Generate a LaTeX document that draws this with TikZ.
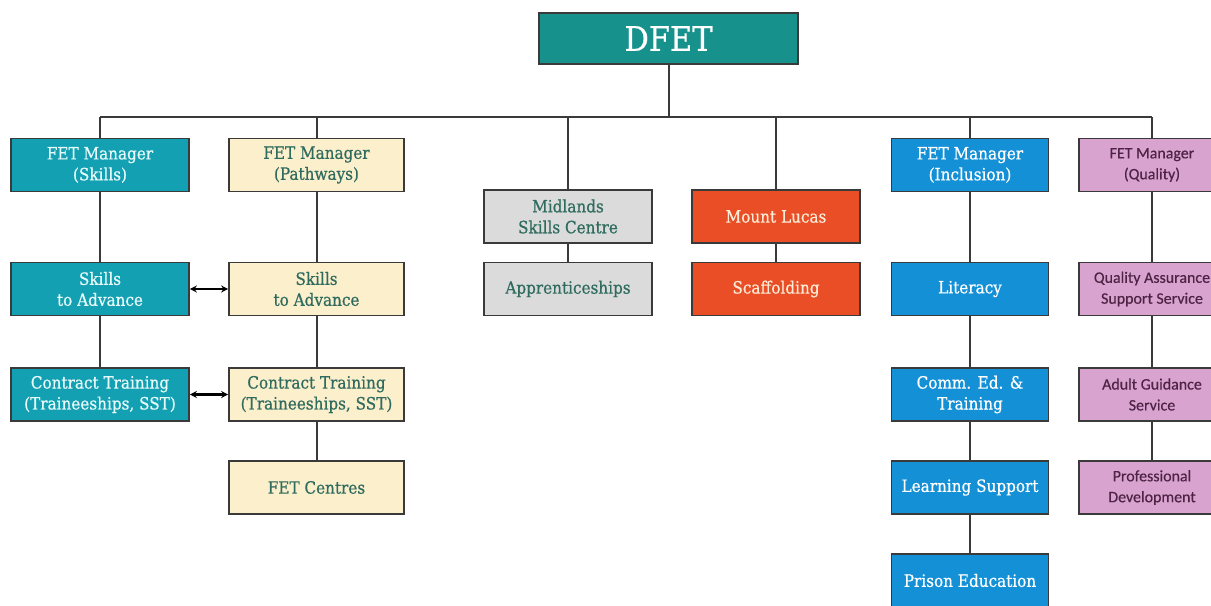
\documentclass[tikz,border=0pt]{standalone}
\usepackage{fontspec}
\setmainfont[FakeBold=0.6]{DejaVu Serif Condensed}
\newfontfamily\calib[FakeBold=0.4]{Carlito}
\usetikzlibrary{arrows.meta}
\definecolor{linec}{HTML}{3A3A3A}
\definecolor{dfetc}{HTML}{16918C}
\definecolor{skillc}{HTML}{12A0B2}
\definecolor{creamc}{HTML}{FBEFCC}
\definecolor{greyc}{HTML}{DBDBDB}
\definecolor{orangec}{HTML}{E94E26}
\definecolor{bluec}{HTML}{1490D6}
\definecolor{pinkc}{HTML}{D9A3CF}
\definecolor{tealtext}{HTML}{2F6B5E}
\definecolor{purptext}{HTML}{4E2346}
\definecolor{lighttext}{HTML}{E6FAFA}
\definecolor{orangetext}{HTML}{FCEBD6}
\tikzset{
  box/.style={draw=linec, line width=1.6bp, inner sep=0pt, align=center,
    minimum height=53bp, font=\fontsize{17}{21}\selectfont},
  skillbox/.style={box, fill=skillc, text=lighttext, minimum width=178bp},
  pathbox/.style={box, fill=creamc, text=tealtext, minimum width=175bp},
  greybox/.style={box, fill=greyc, text=tealtext, minimum width=168bp},
  orangebox/.style={box, fill=orangec, text=orangetext, minimum width=168bp},
  bluebox/.style={box, fill=bluec, text=white, minimum width=157bp},
  pinkbox/.style={box, fill=pinkc, text=purptext, minimum width=146bp,
    font=\calib\fontsize{16}{21}\selectfont},
  conn/.style={draw=linec, line width=2bp},
  dbl/.style={draw=black, line width=2.2bp, {Stealth[length=7bp,width=7bp]}-{Stealth[length=7bp,width=7bp]}}
}
\begin{document}
\begin{tikzpicture}[x=1bp,y=-1bp]
\useasboundingbox[fill=white] (0,0) rectangle (1211,606);
% top
\node[box, fill=dfetc, text=white, minimum width=259bp, minimum height=51bp,
  font=\fontsize{34}{38}\selectfont] (dfet) at (668.5,38.5) {DFET};
\coordinate (busL) at (100,117);
\coordinate (busR) at (1152,117);
% managers
\node[skillbox] (m1) at (100,165) {FET Manager\\(Skills)};
\node[pathbox] (m2) at (316.5,165) {FET Manager\\(Pathways)};
\node[greybox] (m3) at (568,216.5) {Midlands\\Skills Centre};
\node[orangebox] (m4) at (776,216.5) {Mount Lucas};
\node[bluebox] (m5) at (970,165) {FET Manager\\(Inclusion)};
\node[pinkbox] (m6) at (1152,165) {FET Manager\\(Quality)};
% column 1
\node[skillbox] (s1) at (100,289) {Skills\\to Advance};
\node[skillbox] (c1) at (100,394.5) {Contract Training\\(Traineeships, SST)};
% column 2
\node[pathbox] (s2) at (316.5,289) {Skills\\to Advance};
\node[pathbox] (c2) at (316.5,394.5) {Contract Training\\(Traineeships, SST)};
\node[pathbox] (f2) at (316.5,487.5) {FET Centres};
% column 3
\node[greybox] (a3) at (568,289) {Apprenticeships};
% column 4
\node[orangebox] (sc4) at (776,289) {Scaffolding};
% column 5
\node[bluebox] (l5) at (970,289) {Literacy};
\node[bluebox] (ce5) at (970,394.5) {Comm. Ed. \&\\Training};
\node[bluebox] (ls5) at (970,487.5) {Learning Support};
\node[bluebox] (pe5) at (970,580.5) {Prison Education};
% column 6
\node[pinkbox] (q6) at (1152,289) {Quality Assurance\\Support Service};
\node[pinkbox] (ag6) at (1152,394.5) {Adult Guidance\\Service};
\node[pinkbox] (pd6) at (1152,487.5) {Professional\\Development};
% connectors
\draw[conn] (dfet.south) -- (dfet.south |- busL);
\draw[conn] (busL) -- (busR);
\foreach \m in {m1,m2,m3,m4,m5,m6}{
  \draw[conn] (\m.north) -- (\m.north |- busL);
}
\draw[conn] (m1) -- (s1);
\draw[conn] (s1) -- (c1);
\draw[conn] (m2) -- (s2);
\draw[conn] (s2) -- (c2);
\draw[conn] (c2) -- (f2);
\draw[conn] (m3) -- (a3);
\draw[conn] (m4) -- (sc4);
\draw[conn] (m5) -- (l5);
\draw[conn] (l5) -- (ce5);
\draw[conn] (ce5) -- (ls5);
\draw[conn] (ls5) -- (pe5);
\draw[conn] (m6) -- (q6);
\draw[conn] (q6) -- (ag6);
\draw[conn] (ag6) -- (pd6);
\draw[dbl] (s1.east) -- (s2.west);
\draw[dbl] (c1.east) -- (c2.west);
\end{tikzpicture}
\end{document}
